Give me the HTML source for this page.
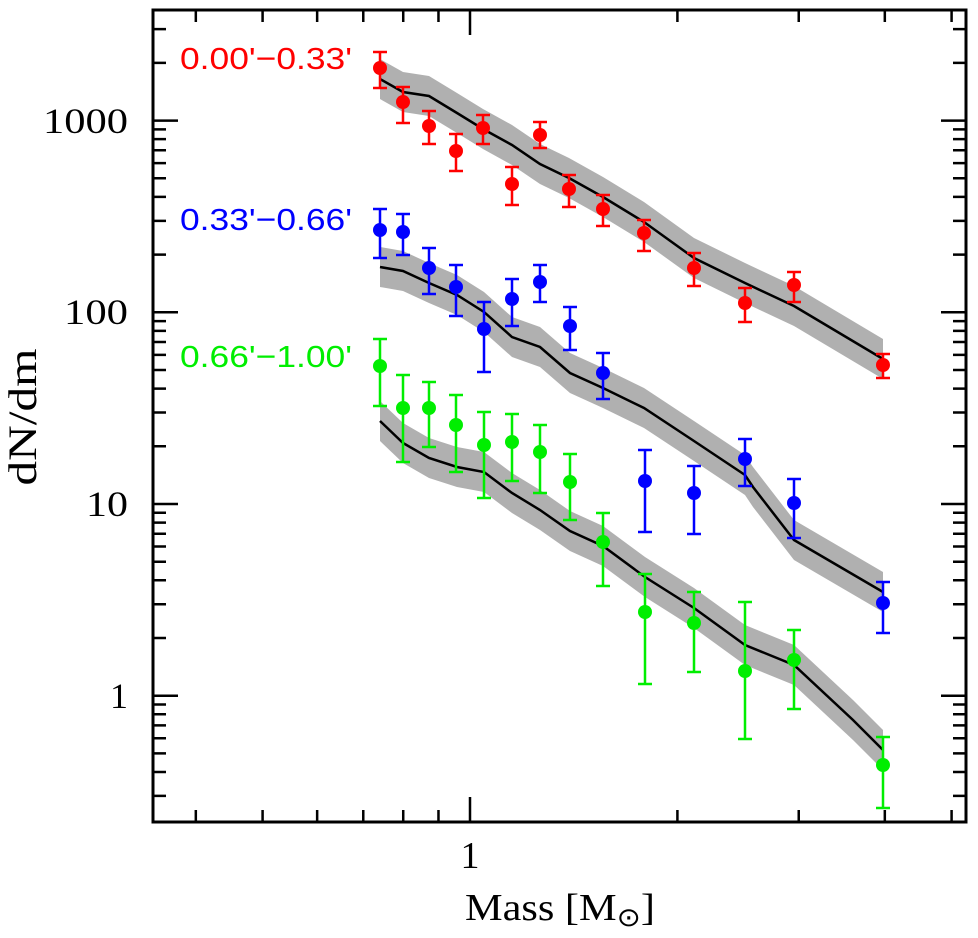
<!DOCTYPE html>
<html><head><meta charset="utf-8"><style>html,body{margin:0;padding:0;background:#fff}svg{display:block}</style></head>
<body>
<svg id="s" width="978" height="938" viewBox="0 0 978 938" xmlns="http://www.w3.org/2000/svg">
<g id="bands"></g><g id="lines"></g><g id="data"></g><g id="axes"></g>
<text x="180" y="69" font-family="Liberation Sans, sans-serif" font-size="31" fill="#ff0000" textLength="172" lengthAdjust="spacingAndGlyphs">0.00'−0.33'</text>
<text x="180" y="230" font-family="Liberation Sans, sans-serif" font-size="31" fill="#0000ff" textLength="172" lengthAdjust="spacingAndGlyphs">0.33'−0.66'</text>
<text x="180" y="367" font-family="Liberation Sans, sans-serif" font-size="31" fill="#00ee00" textLength="172" lengthAdjust="spacingAndGlyphs">0.66'−1.00'</text>
<g font-family="Liberation Serif, serif" font-size="36" fill="#000" text-anchor="end">
<text x="128" y="133" textLength="85" lengthAdjust="spacingAndGlyphs">1000</text>
<text x="128" y="324" textLength="64" lengthAdjust="spacingAndGlyphs">100</text>
<text x="128" y="516" textLength="42" lengthAdjust="spacingAndGlyphs">10</text>
<text x="128" y="708">1</text>
</g>
<text x="470" y="868" font-family="Liberation Serif, serif" font-size="38" text-anchor="middle">1</text>
<text x="465" y="920" font-family="Liberation Serif, serif" font-size="38" textLength="190" lengthAdjust="spacingAndGlyphs">Mass [M<tspan font-size="26" dy="6">⊙</tspan><tspan dy="-6">]</tspan></text>
<text transform="translate(36,417) rotate(-90)" font-family="Liberation Serif, serif" font-size="40" text-anchor="middle" textLength="137" lengthAdjust="spacingAndGlyphs">dN/dm</text>
</svg>
<script>
const NS="http://www.w3.org/2000/svg";
function el(p,t,a){const e=document.createElementNS(NS,t);for(const k in a)e.setAttribute(k,a[k]);document.getElementById(p).appendChild(e);return e;}
const L=153,R=966,T=10,B=822;
const X=m=>470+689*Math.log10(m), Y=v=>695.7-191.7*Math.log10(v);
el("axes","rect",{x:L,y:T,width:R-L,height:B-T,fill:"none",stroke:"#000","stroke-width":3});
let d="";
[0.4,0.5,0.6,0.7,0.8,0.9,1,2,3,4,5].forEach(m=>{const x=X(m),len=(m===1)?25:12;d+=`M${x},${B}v${-len}M${x},${T}v${len}`;});
for(let e=-1;e<=3;e++)for(let k=1;k<=9;k++){const v=k*Math.pow(10,e);const y=Y(v);if(y<T||y>B)continue;const len=k===1?25:13;d+=`M${L},${y}h${len}M${R},${y}h${-len}`;}
el("axes","path",{d:d,stroke:"#000","stroke-width":2.5,fill:"none"});
const series=[
 {c:"#ff0000",line:[[380,79],[403,92],[429,96],[457,113],[483,129],[512,145],[540,164],[569,178],[603,197],[644,222],[694,258],[745,283],[794,306],[883,359]],
  pts:[[380,68,52,88],[403,102,87,123],[429,126,111,144],[456,151,134,171],[483,128,115,144],[512,184,167,205],[540,135,122,148],[569,189,175,207],[603,209,195,226],[644,233,220,251],[694,268,253,286],[745,303,288,322],[794,285,272,302],[883,365,354,378]]},
 {c:"#0000ff",line:[[380,267],[403,271],[429,283],[457,295],[484,312],[512,337],[540,347],[570,373],[603,388],[644,408],[694,441],[745,475],[753,487],[794,540],[883,592]],
  pts:[[380,230,209,258],[403,232,214,255],[429,268,248,294],[456,287,265,316],[484,329,302,372],[512,299,279,326],[540,282,265,302],[570,326,307,350],[603,373,353,399],[645,481,450,532],[694,493,466,534],[745,459,439,486],[794,503,479,538],[883,603,582,633]]},
 {c:"#00ee00",line:[[380,421],[403,443],[429,458],[457,467],[484,472],[512,493],[540,510],[570,531],[603,546],[645,577],[694,608],[745,645],[794,665],[853,720],[883,750]],
  pts:[[380,366,339,406],[403,408,375,462],[429,408,382,447],[456,425,395,472],[484,445,412,498],[512,442,414,481],[540,452,425,493],[570,482,454,520],[603,542,513,586],[645,612,574,684],[694,623,592,672],[745,671,602,739],[794,660,630,709],[883,765,737,808]]}
];
series.forEach(s=>{
 const up=s.line.map(p=>p[0]+","+(p[1]-20)).join(" ");
 const dn=s.line.slice().reverse().map(p=>p[0]+","+(p[1]+20)).join(" ");
 el("bands","polygon",{points:up+" "+dn,fill:"#b0b0b0"});
 el("lines","polyline",{points:s.line.map(p=>p.join(",")).join(" "),fill:"none",stroke:"#000","stroke-width":2.5});
 s.pts.forEach(p=>{
  const [x,y,a,b]=p;
  el("data","path",{d:`M${x},${a}V${b}M${x-7},${a}h14M${x-7},${b}h14`,stroke:s.c,"stroke-width":2.5,fill:"none"});
  el("data","circle",{cx:x,cy:y,r:7,fill:s.c});
 });
});
</script>
</body></html>
